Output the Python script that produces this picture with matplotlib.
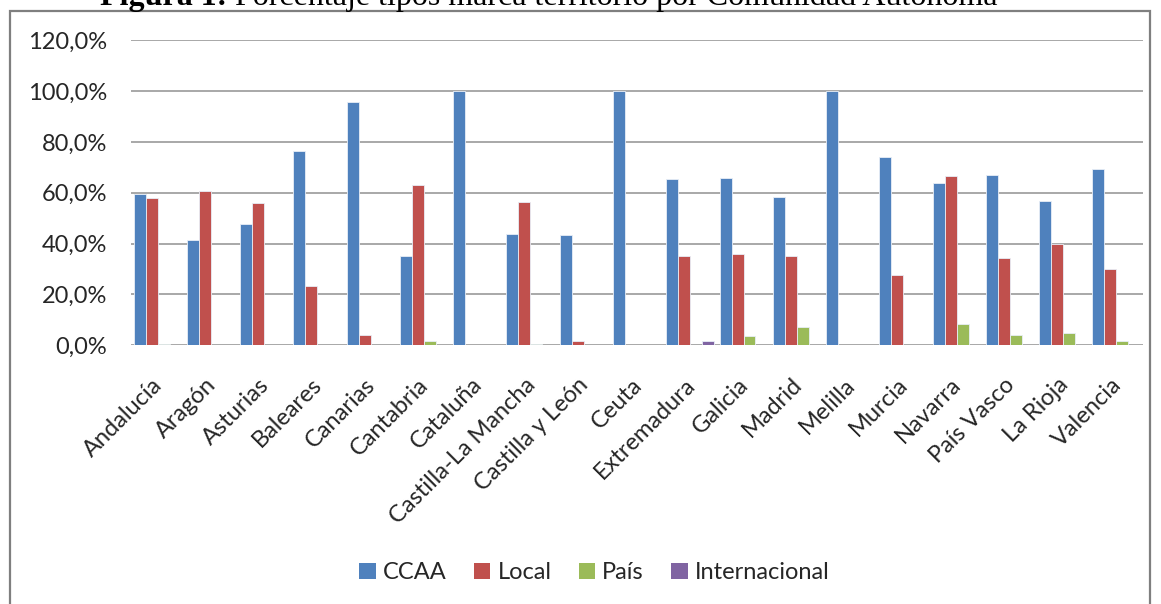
import numpy as np
import matplotlib.pyplot as plt
from matplotlib.patches import Rectangle
from matplotlib.ticker import FuncFormatter

comunidades = ["Andalucía", "Aragón", "Asturias", "Baleares", "Canarias", "Cantabria",
               "Cataluña", "Castilla-La Mancha", "Castilla y León", "Ceuta", "Extremadura",
               "Galicia", "Madrid", "Melilla", "Murcia", "Navarra", "País Vasco",
               "La Rioja", "Valencia"]

ccaa = [59.6, 41.3, 47.8, 76.6, 95.7, 35.3, 100.0, 43.9, 43.4, 100.0, 65.5,
        66.0, 58.4, 100.0, 74.0, 63.9, 67.1, 56.9, 69.5]
local = [57.9, 60.9, 56.0, 23.3, 4.2, 63.0, 0.0, 56.5, 1.6, 0.0, 35.3,
         35.8, 35.3, 0.0, 27.8, 66.5, 34.4, 39.9, 30.2]
pais = [0.6, 0.0, 0.0, 0.0, 0.0, 1.6, 0.0, 0.6, 0.0, 0.0, 0.0,
        3.7, 7.2, 0.0, 0.0, 8.2, 4.2, 4.7, 1.6]
internacional = [0.0, 0.0, 0.0, 0.0, 0.0, 0.0, 0.0, 0.0, 0.0, 0.0, 1.6,
                 0.0, 0.0, 0.0, 0.0, 0.0, 0.0, 0.0, 0.0]

series = [("CCAA", ccaa, "#4F81BD"),
          ("Local", local, "#C0504D"),
          ("País", pais, "#9BBB59"),
          ("Internacional", internacional, "#8064A2")]

plt.rcParams['font.family'] = ['Lato', 'DejaVu Sans']
txt = "#262626"

fig = plt.figure(figsize=(11.61, 6.04), dpi=100)
ax = fig.add_axes([0.1128, 0.4283, 0.8717, 0.505])

x = np.arange(len(comunidades))
w = 0.225
for i, (name, vals, col) in enumerate(series):
    vals = np.array(vals)
    pos = x + (i - 1.5) * w
    m = vals > 0
    ax.bar(pos[m], vals[m], width=w, color=col, edgecolor="#e8eef7",
           linewidth=0.6, zorder=3)
    # proxy for the legend so every series appears
    ax.bar([np.nan], [np.nan], color=col, label=name)

ax.set_xlim(-0.5, len(comunidades) - 0.5)
ax.set_ylim(0, 120)
ax.set_yticks(np.arange(0, 121, 20))
ax.yaxis.set_major_formatter(FuncFormatter(lambda v, p: f"{v:.1f}%".replace(".", ",")))
ax.yaxis.grid(True, color="#9a9a9a", linewidth=1.2, zorder=0)
ax.set_axisbelow(True)
for s in ax.spines.values():
    s.set_visible(False)
ax.tick_params(axis="y", length=0, pad=17, labelsize=17, labelcolor=txt)
ax.tick_params(axis="x", length=0, pad=25, labelsize=17, labelcolor=txt)
ax.set_xticks(x)
ax.set_xticklabels(comunidades, rotation=45, ha="right", va="center_baseline",
                   rotation_mode="anchor")

fig.legend(loc="center", bbox_to_anchor=(0.512, 0.052), ncol=4, frameon=False,
           fontsize=17, handlelength=0.7, handleheight=0.7, handletextpad=0.3,
           columnspacing=1.15, labelcolor=txt)

# outer chart frame
top = 1 - 10.5 / 604
fig.patches.append(Rectangle((10 / 1161, -0.05), 1140 / 1161, top + 0.05,
                             transform=fig.transFigure, fill=False,
                             edgecolor="#7f7f7f", linewidth=1.6))

# caption above the frame, bold label followed by regular text
renderer = fig.canvas.get_renderer()
t1 = fig.text(100 / 1161, 1 - 5.5 / 604, "Figura 1:", fontsize=23, fontweight="bold",
              family="Liberation Serif", ha="left", va="baseline")
x1 = fig.transFigure.inverted().transform(t1.get_window_extent(renderer))[1][0]
fig.text(x1, 1 - 5.5 / 604, " Porcentaje tipos marca territorio por Comunidad Autónoma",
         fontsize=23, family="Liberation Serif", ha="left", va="baseline")

fig.savefig("out.png", dpi=100)
